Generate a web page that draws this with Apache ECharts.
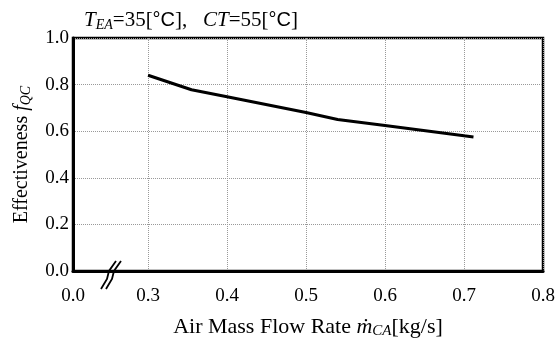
<!DOCTYPE html>
<html><head><meta charset="utf-8">
<script src="https://cdn.jsdelivr.net/npm/echarts@6/dist/echarts.min.js"></script>
<style>html,body{margin:0;padding:0;background:#fff}#c{width:555px;height:340px}</style>
</head><body><div id="c"></div>
<script>
// Data
var flowRate = [0.30, 0.355, 0.40, 0.50, 0.54, 0.60, 0.70, 0.712];
var effectiveness = [0.84, 0.778, 0.748, 0.68, 0.65, 0.624, 0.58, 0.575];
// Broken x axis: leftmost position stands for 0.0
var xBreakStart = 0.205;
var xTickValues = [0.205, 0.3, 0.4, 0.5, 0.6, 0.7, 0.8];
var xTickLabels = ['0.0', '0.3', '0.4', '0.5', '0.6', '0.7', '0.8'];
var yTickValues = [0, 0.2, 0.4, 0.6, 0.8, 1.0];

var chart = echarts.init(document.getElementById('c'));
var serif = '"Liberation Serif", "DejaVu Serif", serif';
var sans = '"Liberation Sans", Arial, sans-serif';
var pts = flowRate.map(function (x, i) { return [x, effectiveness[i]]; });

function richSet(size, subSize) {
  return {
    n: { fontFamily: serif, fontSize: size, fontWeight: 'normal', color: '#000' },
    i: { fontFamily: serif, fontStyle: 'italic', fontWeight: 'normal', fontSize: size, color: '#000' },
    sub: { fontFamily: serif, fontStyle: 'italic', fontWeight: 'normal', fontSize: subSize, color: '#000', verticalAlign: 'bottom', padding: [9, 0, 0, 0] },
    s: { fontFamily: sans, fontSize: size - 1, fontWeight: 'normal', color: '#000' }
  };
}

chart.setOption({
  animation: false,
  backgroundColor: '#fff',
  title: {
    left: 79, top: 4,
    text: '{i|T}{sub|EA}{n|=35[}{s|°C}{n|],   }{i|CT}{n|=55[}{s|°C}{n|]}',
    textStyle: { fontWeight: 'normal', rich: richSet(21, 14) }
  },
  grid: { left: 73, right: 12, top: 38, bottom: 69, outerBoundsMode: 'none', containLabel: false, show: true, borderColor: '#000', borderWidth: 2.5, backgroundColor: 'transparent' },
  xAxis: {
    type: 'value', min: xBreakStart, max: 0.8,
    axisLine: { show: true, lineStyle: { color: '#000', width: 3 } },
    axisTick: { show: false, customValues: xTickValues },
    axisLabel: {
      customValues: xTickValues,
      formatter: function (v) {
        var idx = -1;
        for (var k = 0; k < xTickValues.length; k++) if (Math.abs(xTickValues[k] - v) < 1e-6) idx = k;
        return idx >= 0 ? xTickLabels[idx] : '';
      },
      fontFamily: serif, fontSize: 19, color: '#000', margin: 16
    },
    splitLine: { show: true, lineStyle: { color: '#999', type: 'dotted', width: 1 } },
    name: '{n|Air Mass Flow Rate }{i|ṁ}{sub|CA}{n|[kg/s]}',
    nameLocation: 'middle', nameGap: 44,
    nameTextStyle: { rich: richSet(22, 15) }
  },
  yAxis: {
    type: 'value', min: 0, max: 1, interval: 0.2,
    axisLine: { show: true, lineStyle: { color: '#000', width: 3 } },
    axisTick: { show: false },
    axisLabel: { formatter: function (v) { return v.toFixed(1); }, fontFamily: serif, fontSize: 19, color: '#000', margin: 4 },
    splitLine: { show: true, lineStyle: { color: '#999', type: 'dotted', width: 1 } },
    name: '{n|Effectiveness }{i|f}{sub|QC}',
    nameLocation: 'middle', nameGap: 40, nameRotate: 90,
    nameTextStyle: { rich: richSet(20, 14) }
  },
  series: [{
    type: 'line', data: pts, showSymbol: false, smooth: false,
    lineStyle: { color: '#000', width: 3 }
  }],
  graphic: [
    { type: 'polyline', shape: { points: [[101, 289], [107, 279], [109, 271], [116, 261]] }, style: { stroke: '#000', lineWidth: 1.8, fill: 'none' }, z: 100 },
    { type: 'polyline', shape: { points: [[106, 289], [112, 279], [114, 271], [121, 261]] }, style: { stroke: '#000', lineWidth: 1.8, fill: 'none' }, z: 100 }
  ]
});
</script></body></html>
